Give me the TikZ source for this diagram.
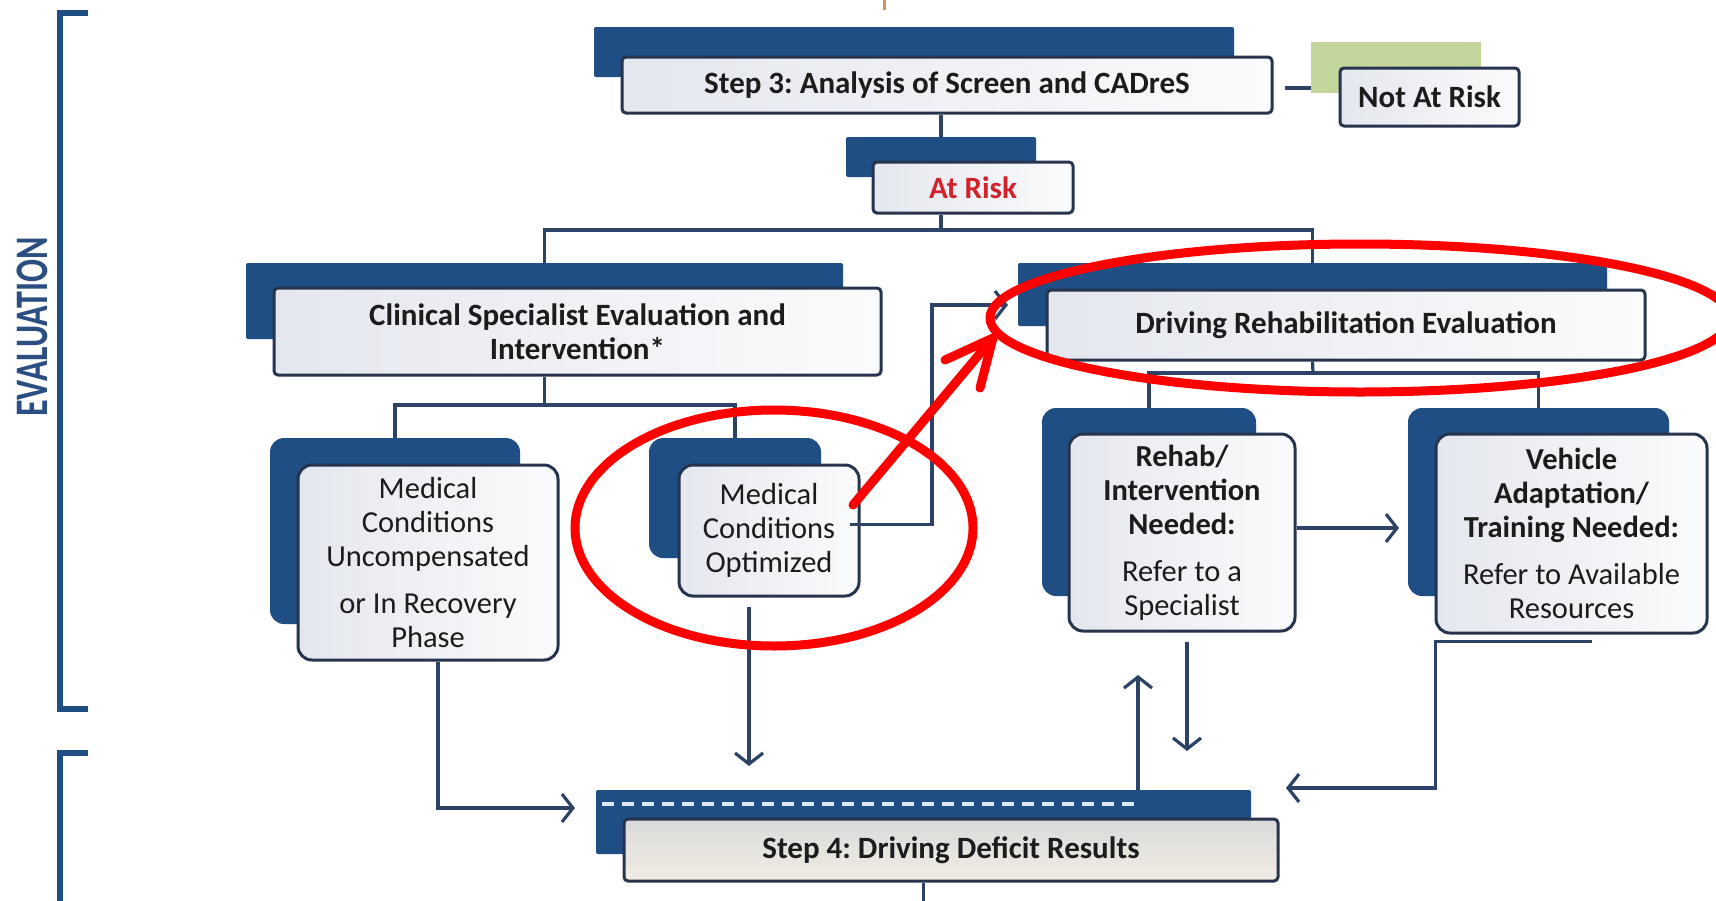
\documentclass[tikz,border=0pt]{standalone}
\usepackage{fontspec}
\setmainfont{Carlito}
\usetikzlibrary{arrows.meta,calc}
\definecolor{dkblue}{HTML}{1F4E85}
\definecolor{lncol}{HTML}{2C4266}
\definecolor{bdcol}{HTML}{27344D}
\definecolor{fillA}{HTML}{E4E7EE}
\definecolor{fillB}{HTML}{FAFBFC}
\definecolor{mygreen}{HTML}{C3D69B}
\definecolor{myred}{HTML}{FF0000}
\definecolor{riskred}{HTML}{D2232A}
\definecolor{txt}{HTML}{1C1C1C}
\definecolor{evalblue}{HTML}{2B4F82}
\definecolor{dashcol}{HTML}{DCE8F5}
\definecolor{s4top}{HTML}{DADADA}
\definecolor{s4bot}{HTML}{F2EDE3}
\definecolor{orangemark}{HTML}{C89A60}
\newcommand\boldtxt{\fontsize{31}{34}\selectfont\bfseries}
\newcommand\regtxt{\fontsize{30.5}{34}\selectfont}
\frenchspacing
\tikzset{
 backbox/.style={fill=dkblue, draw=none, inner sep=0pt, rounded corners=2pt},
 backround/.style={fill=dkblue, draw=none, inner sep=0pt, rounded corners=14pt},
 frontbox/.style={draw=bdcol, line width=3pt, left color=fillA, right color=fillB, inner sep=0pt, rounded corners=4pt, align=center, text=txt, font=\boldtxt},
 frontround/.style={frontbox, rounded corners=14pt},
 conn/.style={draw=lncol, line width=3.2pt},
 arr/.style={conn, -{Straight Barb[length=11pt,width=28pt]}},
 redmark/.style={draw=myred, line width=9pt, line cap=round, line join=round},
 bracket/.style={draw=dkblue, line width=6pt},
 dashline/.style={draw=dashcol, line width=4pt, dash pattern=on 12pt off 8pt},
}
\begin{document}
\begin{tikzpicture}[x=1pt,y=-1pt]
\useasboundingbox (0,0) rectangle (1716,900);
\fill[white] (0,0) rectangle (1716,900);

% side brackets
\draw[bracket] (88,13) -- (60,13) -- (60,709) -- (88,709);
\draw[bracket] (88,753) -- (60,753) -- (60,906);
\node[rotate=90, text=evalblue, font=\fontsize{34}{34}\selectfont\bfseries, inner sep=0pt] (evallabel) at (32,327) {\scalebox{1}[1.37]{EVALUATION}};

% stray mark
\draw[draw=orangemark, line width=3pt] (884,0) -- (884,10);

% Step 3
\node[backbox, minimum width=640, minimum height=50] (s3back) at (914,52) {};
\node[frontbox, minimum width=650, minimum height=56] (s3) at (947,85) {Step 3: Analysis of Screen and CADreS};

% Not at risk
\node[fill=mygreen, inner sep=0pt, minimum width=170, minimum height=51] (nagreen) at (1396,67.5) {};
\node[frontbox, minimum width=179, minimum height=58] (nar) at (1429.5,97) {Not At Risk};

% At risk
\node[backbox, minimum width=190, minimum height=40] (arback) at (941,157) {};
\node[frontbox, minimum width=200, minimum height=51, text=riskred] (ar) at (973,187.5) {At Risk};

% Clinical
\node[backbox, minimum width=597, minimum height=76] (clback) at (544.5,301) {};
\node[frontbox, minimum width=607, minimum height=87] (cl) at (577.5,331.5) {Clinical Specialist Evaluation and\\Intervention*};

% DRE
\node[backbox, minimum width=589, minimum height=63] (dreback) at (1312.5,294.5) {};
\node[frontbox, minimum width=598, minimum height=70] (dre) at (1346,325) {Driving Rehabilitation Evaluation};

% Uncompensated
\node[backround, minimum width=250, minimum height=186] (unback) at (395,531) {};
\node[frontround, font=\regtxt, minimum width=260, minimum height=195] (un) at (428,562.5) {Medical\\Conditions\\Uncompensated\\[13pt]or In Recovery\\Phase};

% Optimized
\node[backround, minimum width=172, minimum height=120] (opback) at (735,498) {};
\node[frontround, font=\regtxt, minimum width=180, minimum height=131] (op) at (769,530.5) {Medical\\Conditions\\Optimized};

% Rehab
\node[backround, minimum width=214, minimum height=188] (rhback) at (1149,502) {};
\node[frontround, font=\regtxt, minimum width=226, minimum height=197] (rh) at (1182,532.5) {{\bfseries Rehab/}\\{\bfseries Intervention}\\{\bfseries Needed:}\\[13pt]Refer to a\\Specialist};

% Vehicle
\node[backround, minimum width=261, minimum height=188] (vhback) at (1538.5,502) {};
\node[frontround, font=\regtxt, minimum width=271, minimum height=199] (vh) at (1571.5,533.5) {{\bfseries Vehicle}\\{\bfseries Adaptation/}\\{\bfseries Training Needed:}\\[13pt]Refer to Available\\Resources};

% Step 4
\node[backbox, minimum width=655, minimum height=64] (s4back) at (923.5,822) {};
\draw[dashline] ($(s4back.north west)+(6,14)$) -- ($(s4back.north east)+(-113,14)$);
\node[frontbox, top color=s4top, bottom color=s4bot, minimum width=654, minimum height=62] (s4) at (951,850) {Step 4: Driving Deficit Results};

% connectors
\draw[conn] (arback.north) -- (arback.north |- s3.south);
\draw[conn] ($(s3.east)+(11,3)$) -- ($(nagreen.west |- s3.east)+(0,3)$);

\coordinate (b1) at (941,230);
\draw[conn] (arback.center |- ar.south) -- (b1);
\draw[conn] (clback.north) |- (b1) -| (dreback.north);

\coordinate (b2) at (544.5,405);
\draw[conn] (clback.center |- cl.south) -- (b2);
\draw[conn] (unback.north) |- (b2) -| (opback.north);

\coordinate (b3) at (1313,373);
\draw[conn] (dreback.center |- dre.south) -- (b3);
\draw[conn] (rhback.north) |- (b3) -| (vhback.north);

\coordinate (k1) at (932,305);
\coordinate (k2) at (1008,305);
\draw[arr] ($(op.east)+(-11,-6)$) -| (k1) -- (k2);

\coordinate (k3) at (575,808);
\draw[arr] ($(un.south)+(10,0)$) |- (k3);

\coordinate (k4) at (749,766);
\draw[arr] ($(op.south)+(-20,9)$) -- (k4);

\coordinate (k5) at (1138,675);
\draw[arr] (k5 |- s4back.north) -- (k5);

\coordinate (k6) at (1187,751);
\draw[arr] ($(rh.south)+(5,9)$) -- (k6);

\coordinate (k7) at (1286,788);
\draw[arr] ($(vh.south)+(20,7)$) -- ($(vh.south west)+(1,7)$) |- (k7);

\coordinate (k8) at (1399,528);
\draw[arr] ($(rh.east)+(0,-4.5)$) -- (k8);

\coordinate (k9) at (923.5,906);
\draw[conn] (s4back.center |- s4.south) -- (k9);

% red annotations
\draw[redmark] (774,528) ellipse [x radius=199, y radius=118];
\draw[redmark] (1360,318) ellipse [x radius=370, y radius=74];
\coordinate (ra) at (853,505);
\coordinate (rb) at (993,338);
\coordinate (rc) at (945,360);
\coordinate (rd) at (980,388);
\draw[redmark] (ra) -- (rb);
\draw[redmark] (rc) -- (rb) -- (rd);
\end{tikzpicture}
\end{document}
